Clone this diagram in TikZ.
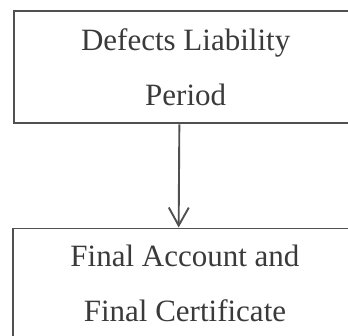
\documentclass[tikz,border=0pt]{standalone}
\usepackage{fontspec}
\setmainfont{Liberation Serif}
\usetikzlibrary{arrows.meta,calc}
\definecolor{ink}{HTML}{505050}
\definecolor{txt}{HTML}{3A3A3A}
\begin{document}
\begin{tikzpicture}[x=1pt,y=1pt,
  stagebox/.style={draw=ink, line width=1.9pt, rectangle, align=center,
    minimum width=344pt, minimum height=112.5pt, inner sep=0pt,
    text=txt, font=\fontsize{31}{54.5}\selectfont, anchor=north west},
  flow/.style={draw=ink, line width=1.9pt,
    -{Straight Barb[length=18pt, width=20pt, line width=1.9pt]}}]
  \useasboundingbox (0,0) rectangle (348,335);
  % two stages of the contract close-out
  \node[stagebox] (dlp) at (12.7,325) {Defects Liability\\Period};
  \node[stagebox, minimum height=110pt] (fin) at (12,107.5) {Final Account and\\Final Certificate};
  % sequence arrow
  \draw[flow] ($(dlp.south)+(-6.3,0)$) -- ($(fin.north)+(-6.3,0)$);
\end{tikzpicture}
\end{document}
